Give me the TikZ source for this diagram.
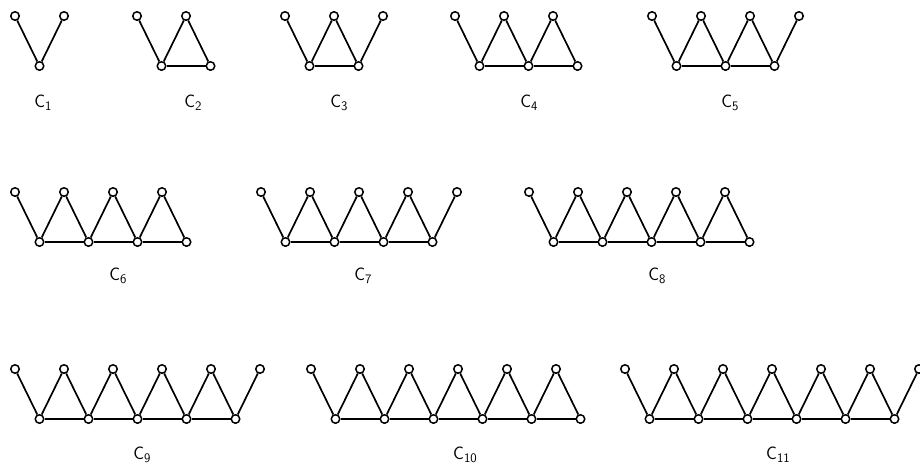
\documentclass[tikz,border=0pt]{standalone}
\begin{document}
\tikzset{
  vtx/.style={circle, draw, fill=white, inner sep=0pt, minimum size=8.5pt, line width=1.5pt},
  lnk/.style={line width=1.7pt},
  lab/.style={anchor=base, inner sep=0pt, font=\sffamily\fontsize{18}{18}\selectfont}
}
\newcommand\subx[1]{\raisebox{-0.45ex}{\fontsize{13}{13}\selectfont #1}}
% #1 id, #2 n, #3 x of first vertex, #4 y of top row
\newcommand\crownG[4]{%
  \pgfmathtruncatemacro\lastv{#2+1}%
  \pgfmathtruncatemacro\nb{floor(#2/2)}%
  \foreach \i in {0,...,\lastv}{%
    \pgfmathsetmacro\yy{isodd(\i) ? #4+50 : #4}%
    \node[vtx] (#1-\i) at ({#3+24.5*\i},\yy) {};
  }%
  \foreach \i [evaluate=\i as \j using int(\i+1)] in {0,...,#2}{%
    \draw[lnk] (#1-\i) -- (#1-\j);
  }%
  \ifnum\nb>0
  \foreach \k [evaluate=\k as \a using int(2*\k-1), evaluate=\k as \b using int(2*\k+1)] in {1,...,\nb}{%
    \draw[lnk] (#1-\a) -- (#1-\b);
  }%
  \fi
}
\begin{tikzpicture}[x=1pt,y=-1pt]
\useasboundingbox (0,0) rectangle (920,464);
\crownG{ca}{1}{15}{16}
\crownG{cb}{2}{137}{16}
\crownG{cc}{3}{285}{16}
\crownG{cd}{4}{455}{16}
\crownG{ce}{5}{652}{16}
\crownG{cf}{6}{15}{192}
\crownG{cg}{7}{261}{192}
\crownG{ch}{8}{529}{192}
\crownG{ci}{9}{15}{369}
\crownG{cj}{10}{311}{369}
\crownG{ck}{11}{625}{369}
\node[lab] (la) at (43,107) {C\subx{1}};
\node[lab] (lb) at (193,107) {C\subx{2}};
\node[lab] (lc) at (339,107) {C\subx{3}};
\node[lab] (ld) at (529,107) {C\subx{4}};
\node[lab] (le) at (730,107) {C\subx{5}};
\node[lab] (lf) at (118,280) {C\subx{6}};
\node[lab] (lg) at (363,280) {C\subx{7}};
\node[lab] (lh) at (657,280) {C\subx{8}};
\node[lab] (li) at (142,459) {C\subx{9}};
\node[lab] (lj) at (465,459) {C\subx{10}};
\node[lab] (lk) at (778,459) {C\subx{11}};
\end{tikzpicture}
\end{document}
